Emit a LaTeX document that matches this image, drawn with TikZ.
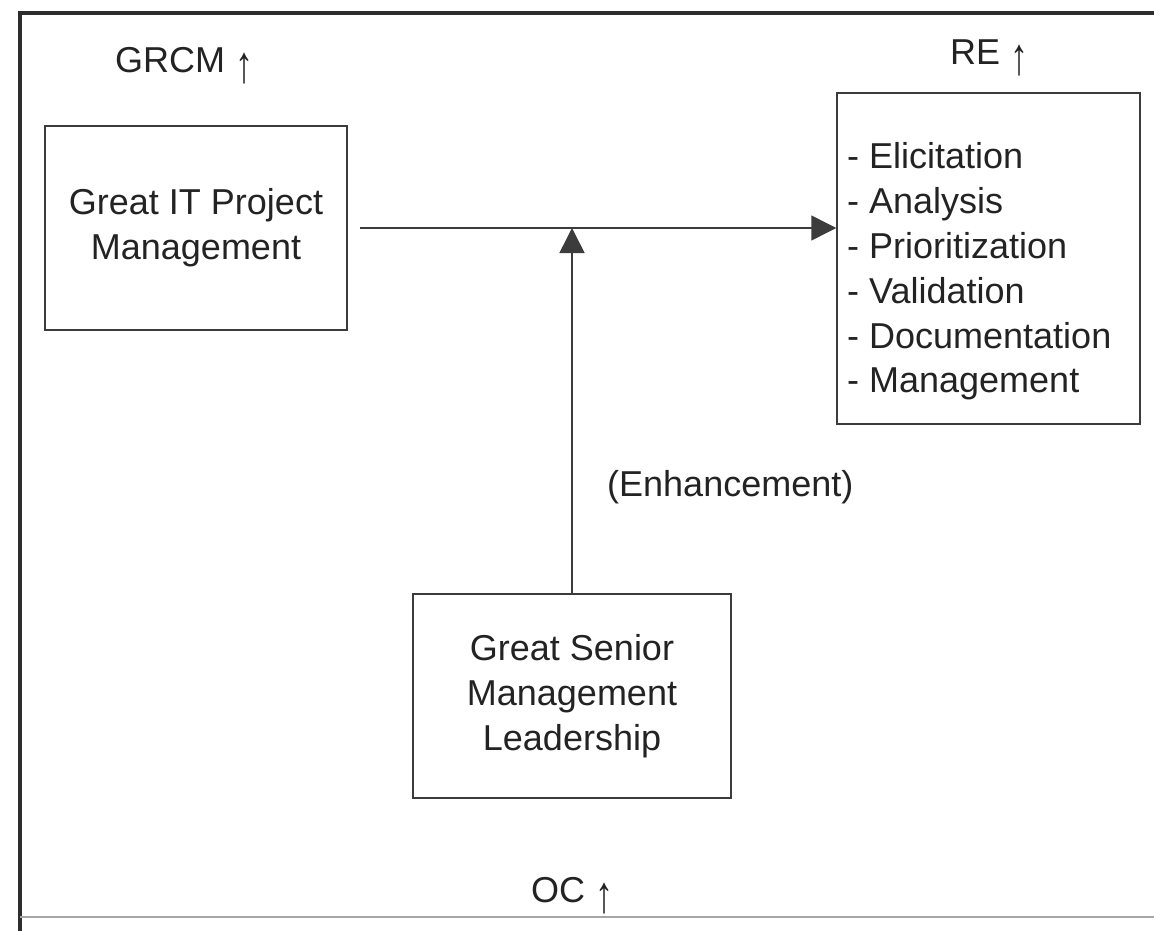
\documentclass[tikz,border=0pt]{standalone}
\usepackage{fontspec}
\setmainfont{Liberation Sans}
\usetikzlibrary{arrows.meta}
\definecolor{ink}{RGB}{35,35,35}
\definecolor{rule}{RGB}{60,60,60}
\definecolor{frameink}{RGB}{45,45,45}

% tall thin "increase" arrow used after the headings
\newcommand{\uparr}{\raisebox{-10pt}{\scalebox{1}[1.45]{↑}}}

\begin{document}
\begin{tikzpicture}[x=1pt,y=-1pt,
  every node/.style={font=\fontsize{36}{45}\selectfont, text=ink},
  box/.style={draw=rule, line width=1.5pt, inner sep=0pt, align=center},
  lbl/.style={inner sep=0pt, anchor=base west},
  link/.style={draw=rule, line width=1.5pt, -{Triangle[length=25pt,width=25pt]}}]

  % page extent and outer frame
  \useasboundingbox (0,0) rectangle (1154,931);
  \draw[frameink, line width=4pt] (20,931) -- (20,13) -- (1154,13);
  \draw[gray!70, line width=1.2pt] (20,917) -- (1154,917);

  % boxes
  \node[box, minimum width=302pt, minimum height=204pt] (gitpm) at (196,228)
    {Great IT Project\\Management};
  \node[box, minimum width=303pt, minimum height=331pt] (rebox) at (988.5,258.5) {};
  \node[box, minimum width=318pt, minimum height=204pt] (gsml) at (572,696)
    {Great Senior\\Management\\Leadership};

  % activity list inside the RE box
  \node[lbl] (relist) at (847,168)
    {\begin{tabular}[t]{@{}l@{}}- Elicitation\\- Analysis\\- Prioritization\\- Validation\\- Documentation\\- Management\end{tabular}};

  % headings
  \node[lbl] (grcm) at (115,73) {GRCM \uparr};
  \node[lbl] (re) at (950,65) {RE \uparr};
  \node[lbl] (oc) at (531,902) {OC \uparr};
  \node[lbl] (enh) at (607,496) {(Enhancement)};

  % connectors
  \coordinate (hstart) at ([xshift=12pt]gitpm.east);
  \coordinate (join) at (gsml.north |- hstart);
  \draw[link] (hstart) -- (rebox.west |- hstart);
  \draw[link] (gsml.north) -- (join);
\end{tikzpicture}
\end{document}
